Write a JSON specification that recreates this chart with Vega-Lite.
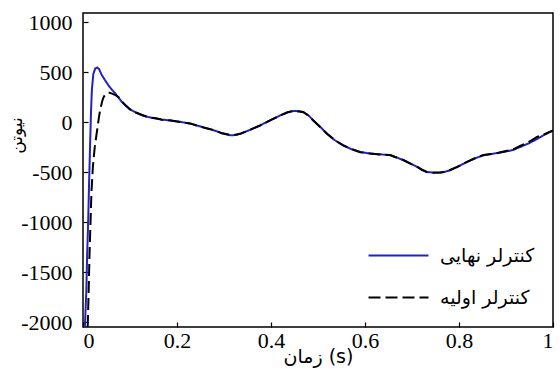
{
  "$schema": "https://vega.github.io/schema/vega-lite/v6.json",
  "width": 470,
  "height": 314,
  "autosize": {"type": "none"},
  "padding": {"left": 83, "top": 13, "right": 7, "bottom": 42},
  "background": "white",
  "config": {
    "view": {"stroke": "black", "strokeWidth": 1.5},
    "font": "Times New Roman, Liberation Serif, DejaVu Serif, serif",
    "axis": {"grid": false, "domain": false, "tickColor": "black", "tickWidth": 1.2, "labelColor": "black", "titleColor": "black", "labelFontSize": 22, "titleFontWeight": "normal"}
  },
  "data": {
    "values": [
      {"t": 0.004, "v": -2050, "s": "کنترلر نهایی"},
      {"t": 0.007, "v": -1700, "s": "کنترلر نهایی"},
      {"t": 0.009, "v": -1300, "s": "کنترلر نهایی"},
      {"t": 0.011, "v": -1000, "s": "کنترلر نهایی"},
      {"t": 0.013, "v": -600, "s": "کنترلر نهایی"},
      {"t": 0.015, "v": -250, "s": "کنترلر نهایی"},
      {"t": 0.017, "v": 100, "s": "کنترلر نهایی"},
      {"t": 0.019, "v": 330, "s": "کنترلر نهایی"},
      {"t": 0.022, "v": 480, "s": "کنترلر نهایی"},
      {"t": 0.026, "v": 535, "s": "کنترلر نهایی"},
      {"t": 0.030, "v": 545, "s": "کنترلر نهایی"},
      {"t": 0.034, "v": 530, "s": "کنترلر نهایی"},
      {"t": 0.040, "v": 470, "s": "کنترلر نهایی"},
      {"t": 0.047, "v": 417, "s": "کنترلر نهایی"},
      {"t": 0.055, "v": 360, "s": "کنترلر نهایی"},
      {"t": 0.062, "v": 320, "s": "کنترلر نهایی"},
      {"t": 0.069, "v": 284, "s": "کنترلر نهایی"},
      {"t": 0.076, "v": 240, "s": "کنترلر نهایی"},
      {"t": 0.083, "v": 200, "s": "کنترلر نهایی"},
      {"t": 0.090, "v": 167, "s": "کنترلر نهایی"},
      {"t": 0.100, "v": 125, "s": "کنترلر نهایی"},
      {"t": 0.113, "v": 95, "s": "کنترلر نهایی"},
      {"t": 0.126, "v": 67, "s": "کنترلر نهایی"},
      {"t": 0.140, "v": 48, "s": "کنترلر نهایی"},
      {"t": 0.155, "v": 35, "s": "کنترلر نهایی"},
      {"t": 0.168, "v": 24, "s": "کنترلر نهایی"},
      {"t": 0.185, "v": 15, "s": "کنترلر نهایی"},
      {"t": 0.206, "v": 2, "s": "کنترلر نهایی"},
      {"t": 0.228, "v": -16, "s": "کنترلر نهایی"},
      {"t": 0.250, "v": -45, "s": "کنترلر نهایی"},
      {"t": 0.278, "v": -83, "s": "کنترلر نهایی"},
      {"t": 0.295, "v": -110, "s": "کنترلر نهایی"},
      {"t": 0.313, "v": -133, "s": "کنترلر نهایی"},
      {"t": 0.325, "v": -130, "s": "کنترلر نهایی"},
      {"t": 0.335, "v": -116, "s": "کنترلر نهایی"},
      {"t": 0.355, "v": -80, "s": "کنترلر نهایی"},
      {"t": 0.377, "v": -33, "s": "کنترلر نهایی"},
      {"t": 0.400, "v": 20, "s": "کنترلر نهایی"},
      {"t": 0.420, "v": 67, "s": "کنترلر نهایی"},
      {"t": 0.435, "v": 95, "s": "کنترلر نهایی"},
      {"t": 0.448, "v": 110, "s": "کنترلر نهایی"},
      {"t": 0.460, "v": 108, "s": "کنترلر نهایی"},
      {"t": 0.469, "v": 100, "s": "کنترلر نهایی"},
      {"t": 0.480, "v": 65, "s": "کنترلر نهایی"},
      {"t": 0.490, "v": 17, "s": "کنترلر نهایی"},
      {"t": 0.505, "v": -50, "s": "کنترلر نهایی"},
      {"t": 0.519, "v": -116, "s": "کنترلر نهایی"},
      {"t": 0.535, "v": -180, "s": "کنترلر نهایی"},
      {"t": 0.554, "v": -233, "s": "کنترلر نهایی"},
      {"t": 0.570, "v": -270, "s": "کنترلر نهایی"},
      {"t": 0.590, "v": -300, "s": "کنترلر نهایی"},
      {"t": 0.611, "v": -316, "s": "کنترلر نهایی"},
      {"t": 0.630, "v": -322, "s": "کنترلر نهایی"},
      {"t": 0.654, "v": -333, "s": "کنترلر نهایی"},
      {"t": 0.668, "v": -355, "s": "کنترلر نهایی"},
      {"t": 0.682, "v": -383, "s": "کنترلر نهایی"},
      {"t": 0.697, "v": -415, "s": "کنترلر نهایی"},
      {"t": 0.711, "v": -450, "s": "کنترلر نهایی"},
      {"t": 0.722, "v": -478, "s": "کنترلر نهایی"},
      {"t": 0.732, "v": -500, "s": "کنترلر نهایی"},
      {"t": 0.745, "v": -506, "s": "کنترلر نهایی"},
      {"t": 0.760, "v": -506, "s": "کنترلر نهایی"},
      {"t": 0.770, "v": -498, "s": "کنترلر نهایی"},
      {"t": 0.781, "v": -483, "s": "کنترلر نهایی"},
      {"t": 0.800, "v": -440, "s": "کنترلر نهایی"},
      {"t": 0.817, "v": -400, "s": "کنترلر نهایی"},
      {"t": 0.835, "v": -362, "s": "کنترلر نهایی"},
      {"t": 0.852, "v": -333, "s": "کنترلر نهایی"},
      {"t": 0.875, "v": -315, "s": "کنترلر نهایی"},
      {"t": 0.895, "v": -300, "s": "کنترلر نهایی"},
      {"t": 0.915, "v": -280, "s": "کنترلر نهایی"},
      {"t": 0.930, "v": -250, "s": "کنترلر نهایی"},
      {"t": 0.950, "v": -210, "s": "کنترلر نهایی"},
      {"t": 0.966, "v": -170, "s": "کنترلر نهایی"},
      {"t": 0.983, "v": -125, "s": "کنترلر نهایی"},
      {"t": 1.000, "v": -85, "s": "کنترلر نهایی"},
      {"t": 0.010, "v": -2050, "s": "کنترلر اولیه"},
      {"t": 0.012, "v": -1700, "s": "کنترلر اولیه"},
      {"t": 0.014, "v": -1300, "s": "کنترلر اولیه"},
      {"t": 0.016, "v": -1000, "s": "کنترلر اولیه"},
      {"t": 0.018, "v": -700, "s": "کنترلر اولیه"},
      {"t": 0.021, "v": -450, "s": "کنترلر اولیه"},
      {"t": 0.025, "v": -250, "s": "کنترلر اولیه"},
      {"t": 0.030, "v": -83, "s": "کنترلر اولیه"},
      {"t": 0.034, "v": 50, "s": "کنترلر اولیه"},
      {"t": 0.037, "v": 134, "s": "کنترلر اولیه"},
      {"t": 0.041, "v": 210, "s": "کنترلر اولیه"},
      {"t": 0.044, "v": 250, "s": "کنترلر اولیه"},
      {"t": 0.048, "v": 280, "s": "کنترلر اولیه"},
      {"t": 0.051, "v": 290, "s": "کنترلر اولیه"},
      {"t": 0.056, "v": 292, "s": "کنترلر اولیه"},
      {"t": 0.062, "v": 284, "s": "کنترلر اولیه"},
      {"t": 0.069, "v": 268, "s": "کنترلر اولیه"},
      {"t": 0.076, "v": 248, "s": "کنترلر اولیه"},
      {"t": 0.083, "v": 205, "s": "کنترلر اولیه"},
      {"t": 0.090, "v": 170, "s": "کنترلر اولیه"},
      {"t": 0.100, "v": 128, "s": "کنترلر اولیه"},
      {"t": 0.113, "v": 92, "s": "کنترلر اولیه"},
      {"t": 0.126, "v": 70, "s": "کنترلر اولیه"},
      {"t": 0.140, "v": 45, "s": "کنترلر اولیه"},
      {"t": 0.155, "v": 37, "s": "کنترلر اولیه"},
      {"t": 0.168, "v": 22, "s": "کنترلر اولیه"},
      {"t": 0.185, "v": 17, "s": "کنترلر اولیه"},
      {"t": 0.206, "v": 0, "s": "کنترلر اولیه"},
      {"t": 0.228, "v": -14, "s": "کنترلر اولیه"},
      {"t": 0.250, "v": -48, "s": "کنترلر اولیه"},
      {"t": 0.278, "v": -80, "s": "کنترلر اولیه"},
      {"t": 0.295, "v": -113, "s": "کنترلر اولیه"},
      {"t": 0.313, "v": -130, "s": "کنترلر اولیه"},
      {"t": 0.325, "v": -128, "s": "کنترلر اولیه"},
      {"t": 0.335, "v": -118, "s": "کنترلر اولیه"},
      {"t": 0.355, "v": -78, "s": "کنترلر اولیه"},
      {"t": 0.377, "v": -35, "s": "کنترلر اولیه"},
      {"t": 0.400, "v": 22, "s": "کنترلر اولیه"},
      {"t": 0.420, "v": 65, "s": "کنترلر اولیه"},
      {"t": 0.435, "v": 97, "s": "کنترلر اولیه"},
      {"t": 0.448, "v": 112, "s": "کنترلر اولیه"},
      {"t": 0.460, "v": 106, "s": "کنترلر اولیه"},
      {"t": 0.469, "v": 98, "s": "کنترلر اولیه"},
      {"t": 0.480, "v": 62, "s": "کنترلر اولیه"},
      {"t": 0.490, "v": 15, "s": "کنترلر اولیه"},
      {"t": 0.505, "v": -52, "s": "کنترلر اولیه"},
      {"t": 0.519, "v": -118, "s": "کنترلر اولیه"},
      {"t": 0.535, "v": -178, "s": "کنترلر اولیه"},
      {"t": 0.554, "v": -235, "s": "کنترلر اولیه"},
      {"t": 0.570, "v": -268, "s": "کنترلر اولیه"},
      {"t": 0.590, "v": -302, "s": "کنترلر اولیه"},
      {"t": 0.611, "v": -314, "s": "کنترلر اولیه"},
      {"t": 0.630, "v": -325, "s": "کنترلر اولیه"},
      {"t": 0.654, "v": -330, "s": "کنترلر اولیه"},
      {"t": 0.668, "v": -358, "s": "کنترلر اولیه"},
      {"t": 0.682, "v": -380, "s": "کنترلر اولیه"},
      {"t": 0.697, "v": -418, "s": "کنترلر اولیه"},
      {"t": 0.711, "v": -447, "s": "کنترلر اولیه"},
      {"t": 0.722, "v": -480, "s": "کنترلر اولیه"},
      {"t": 0.732, "v": -502, "s": "کنترلر اولیه"},
      {"t": 0.745, "v": -508, "s": "کنترلر اولیه"},
      {"t": 0.760, "v": -504, "s": "کنترلر اولیه"},
      {"t": 0.770, "v": -500, "s": "کنترلر اولیه"},
      {"t": 0.781, "v": -480, "s": "کنترلر اولیه"},
      {"t": 0.800, "v": -442, "s": "کنترلر اولیه"},
      {"t": 0.817, "v": -398, "s": "کنترلر اولیه"},
      {"t": 0.835, "v": -360, "s": "کنترلر اولیه"},
      {"t": 0.852, "v": -330, "s": "کنترلر اولیه"},
      {"t": 0.875, "v": -318, "s": "کنترلر اولیه"},
      {"t": 0.895, "v": -295, "s": "کنترلر اولیه"},
      {"t": 0.915, "v": -275, "s": "کنترلر اولیه"},
      {"t": 0.930, "v": -240, "s": "کنترلر اولیه"},
      {"t": 0.950, "v": -195, "s": "کنترلر اولیه"},
      {"t": 0.966, "v": -150, "s": "کنترلر اولیه"},
      {"t": 0.983, "v": -120, "s": "کنترلر اولیه"},
      {"t": 1.000, "v": -85, "s": "کنترلر اولیه"}
    ]
  },
  "mark": {"type": "line", "strokeWidth": 2, "clip": true},
  "encoding": {
    "x": {
      "field": "t", "type": "quantitative",
      "scale": {"domain": [0, 1], "nice": false, "zero": false},
      "axis": {"values": [0, 0.2, 0.4, 0.6, 0.8, 1], "labelExpr": "'' + datum.value", "labelFont": "Times New Roman, Liberation Serif, DejaVu Serif, serif", "labelFontSize": 22, "tickSize": -5, "labelPadding": 8, "title": "زمان (s)", "titleFont": "DejaVu Sans", "titleFontSize": 19, "titleY": 20}
    },
    "y": {
      "field": "v", "type": "quantitative",
      "scale": {"domain": [-2050, 1090], "nice": false, "zero": false},
      "axis": {"values": [-2000, -1500, -1000, -500, 0, 500, 1000], "labelExpr": "'' + datum.value", "labelFont": "Times New Roman, Liberation Serif, DejaVu Serif, serif", "labelFontSize": 22, "tickSize": -5, "labelPadding": 16, "title": "نیوتن", "titleFont": "DejaVu Sans", "titleFontSize": 17, "titleX": -58, "titleY": 122}
    },
    "color": {
      "field": "s", "type": "nominal",
      "scale": {"domain": ["کنترلر نهایی", "کنترلر اولیه"], "range": ["#2222c4", "#000000"]},
      "legend": {"orient": "none", "legendX": 284, "legendY": 211, "title": null, "symbolType": "stroke", "symbolSize": 3600, "symbolStrokeWidth": 2.2, "labelFont": "DejaVu Sans", "labelFontSize": 19, "labelColor": "black", "labelOffset": 10, "rowPadding": -31, "padding": 0}
    },
    "strokeDash": {
      "field": "s", "type": "nominal",
      "scale": {"domain": ["کنترلر نهایی", "کنترلر اولیه"], "range": [[1, 0], [12, 5]]},
      "legend": {"orient": "none", "legendX": 284, "legendY": 211, "title": null, "symbolType": "stroke", "symbolSize": 3600, "symbolStrokeWidth": 2.2, "labelFont": "DejaVu Sans", "labelFontSize": 19, "labelColor": "black", "labelOffset": 10, "rowPadding": -31, "padding": 0}
    }
  }
}
